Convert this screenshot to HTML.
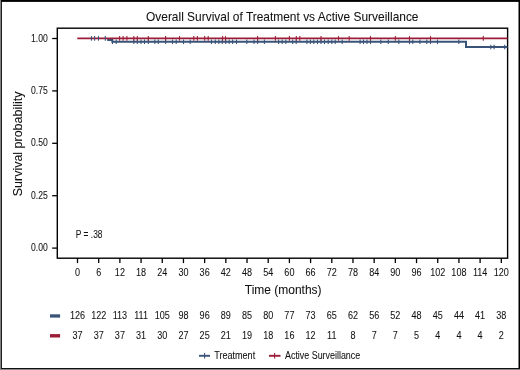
<!DOCTYPE html><html><head><meta charset="utf-8"><style>html,body{margin:0;padding:0;background:#fff;}body{width:520px;height:370px;overflow:hidden;position:relative;}svg{position:absolute;left:0;top:0;}text{font-family:"Liberation Sans", sans-serif;fill:#111;stroke:#111;stroke-width:0.06px;-webkit-font-smoothing:antialiased;}</style></head><body><svg style="filter:grayscale(0)" width="520" height="370" viewBox="0 0 520 370"><rect x="0" y="0" width="520" height="370" fill="#fff"/><text x="146" y="20.6" font-size="12.4" textLength="272.5" lengthAdjust="spacingAndGlyphs">Overall Survival of Treatment vs Active Surveillance</text><rect x="57.3" y="28.2" width="450.3" height="230" fill="none" stroke="#000" stroke-width="1.4"/><line x1="52.2" y1="38.50" x2="57.3" y2="38.50" stroke="#000" stroke-width="1.3"/><text x="47.80" y="41.60" font-size="10.0" text-anchor="end" textLength="16.74" lengthAdjust="spacingAndGlyphs">1.00</text><line x1="52.2" y1="90.90" x2="57.3" y2="90.90" stroke="#000" stroke-width="1.3"/><text x="47.80" y="94.00" font-size="10.0" text-anchor="end" textLength="16.74" lengthAdjust="spacingAndGlyphs">0.75</text><line x1="52.2" y1="143.30" x2="57.3" y2="143.30" stroke="#000" stroke-width="1.3"/><text x="47.80" y="146.40" font-size="10.0" text-anchor="end" textLength="16.74" lengthAdjust="spacingAndGlyphs">0.50</text><line x1="52.2" y1="195.70" x2="57.3" y2="195.70" stroke="#000" stroke-width="1.3"/><text x="47.80" y="198.80" font-size="10.0" text-anchor="end" textLength="16.74" lengthAdjust="spacingAndGlyphs">0.25</text><line x1="52.2" y1="248.10" x2="57.3" y2="248.10" stroke="#000" stroke-width="1.3"/><text x="47.80" y="251.20" font-size="10.0" text-anchor="end" textLength="16.74" lengthAdjust="spacingAndGlyphs">0.00</text><line x1="77.50" y1="258.2" x2="77.50" y2="263.1" stroke="#000" stroke-width="1.3"/><text x="77.50" y="275.90" font-size="10.0" text-anchor="middle" textLength="5.03" lengthAdjust="spacingAndGlyphs">0</text><line x1="98.69" y1="258.2" x2="98.69" y2="263.1" stroke="#000" stroke-width="1.3"/><text x="98.69" y="275.90" font-size="10.0" text-anchor="middle" textLength="5.03" lengthAdjust="spacingAndGlyphs">6</text><line x1="119.88" y1="258.2" x2="119.88" y2="263.1" stroke="#000" stroke-width="1.3"/><text x="119.88" y="275.90" font-size="10.0" text-anchor="middle" textLength="10.07" lengthAdjust="spacingAndGlyphs">12</text><line x1="141.07" y1="258.2" x2="141.07" y2="263.1" stroke="#000" stroke-width="1.3"/><text x="141.07" y="275.90" font-size="10.0" text-anchor="middle" textLength="10.07" lengthAdjust="spacingAndGlyphs">18</text><line x1="162.26" y1="258.2" x2="162.26" y2="263.1" stroke="#000" stroke-width="1.3"/><text x="162.26" y="275.90" font-size="10.0" text-anchor="middle" textLength="10.07" lengthAdjust="spacingAndGlyphs">24</text><line x1="183.45" y1="258.2" x2="183.45" y2="263.1" stroke="#000" stroke-width="1.3"/><text x="183.45" y="275.90" font-size="10.0" text-anchor="middle" textLength="10.07" lengthAdjust="spacingAndGlyphs">30</text><line x1="204.64" y1="258.2" x2="204.64" y2="263.1" stroke="#000" stroke-width="1.3"/><text x="204.64" y="275.90" font-size="10.0" text-anchor="middle" textLength="10.07" lengthAdjust="spacingAndGlyphs">36</text><line x1="225.83" y1="258.2" x2="225.83" y2="263.1" stroke="#000" stroke-width="1.3"/><text x="225.83" y="275.90" font-size="10.0" text-anchor="middle" textLength="10.07" lengthAdjust="spacingAndGlyphs">42</text><line x1="247.02" y1="258.2" x2="247.02" y2="263.1" stroke="#000" stroke-width="1.3"/><text x="247.02" y="275.90" font-size="10.0" text-anchor="middle" textLength="10.07" lengthAdjust="spacingAndGlyphs">48</text><line x1="268.21" y1="258.2" x2="268.21" y2="263.1" stroke="#000" stroke-width="1.3"/><text x="268.21" y="275.90" font-size="10.0" text-anchor="middle" textLength="10.07" lengthAdjust="spacingAndGlyphs">54</text><line x1="289.40" y1="258.2" x2="289.40" y2="263.1" stroke="#000" stroke-width="1.3"/><text x="289.40" y="275.90" font-size="10.0" text-anchor="middle" textLength="10.07" lengthAdjust="spacingAndGlyphs">60</text><line x1="310.59" y1="258.2" x2="310.59" y2="263.1" stroke="#000" stroke-width="1.3"/><text x="310.59" y="275.90" font-size="10.0" text-anchor="middle" textLength="10.07" lengthAdjust="spacingAndGlyphs">66</text><line x1="331.78" y1="258.2" x2="331.78" y2="263.1" stroke="#000" stroke-width="1.3"/><text x="331.78" y="275.90" font-size="10.0" text-anchor="middle" textLength="10.07" lengthAdjust="spacingAndGlyphs">72</text><line x1="352.97" y1="258.2" x2="352.97" y2="263.1" stroke="#000" stroke-width="1.3"/><text x="352.97" y="275.90" font-size="10.0" text-anchor="middle" textLength="10.07" lengthAdjust="spacingAndGlyphs">78</text><line x1="374.16" y1="258.2" x2="374.16" y2="263.1" stroke="#000" stroke-width="1.3"/><text x="374.16" y="275.90" font-size="10.0" text-anchor="middle" textLength="10.07" lengthAdjust="spacingAndGlyphs">84</text><line x1="395.35" y1="258.2" x2="395.35" y2="263.1" stroke="#000" stroke-width="1.3"/><text x="395.35" y="275.90" font-size="10.0" text-anchor="middle" textLength="10.07" lengthAdjust="spacingAndGlyphs">90</text><line x1="416.54" y1="258.2" x2="416.54" y2="263.1" stroke="#000" stroke-width="1.3"/><text x="416.54" y="275.90" font-size="10.0" text-anchor="middle" textLength="10.07" lengthAdjust="spacingAndGlyphs">96</text><line x1="437.73" y1="258.2" x2="437.73" y2="263.1" stroke="#000" stroke-width="1.3"/><text x="437.73" y="275.90" font-size="10.0" text-anchor="middle" textLength="15.10" lengthAdjust="spacingAndGlyphs">102</text><line x1="458.92" y1="258.2" x2="458.92" y2="263.1" stroke="#000" stroke-width="1.3"/><text x="458.92" y="275.90" font-size="10.0" text-anchor="middle" textLength="15.10" lengthAdjust="spacingAndGlyphs">108</text><line x1="480.11" y1="258.2" x2="480.11" y2="263.1" stroke="#000" stroke-width="1.3"/><text x="480.11" y="275.90" font-size="10.0" text-anchor="middle" textLength="14.43" lengthAdjust="spacingAndGlyphs">114</text><line x1="501.30" y1="258.2" x2="501.30" y2="263.1" stroke="#000" stroke-width="1.3"/><text x="501.30" y="275.90" font-size="10.0" text-anchor="middle" textLength="15.10" lengthAdjust="spacingAndGlyphs">120</text><text x="244.8" y="293.8" font-size="12" textLength="76.8" lengthAdjust="spacingAndGlyphs">Time (months)</text><text transform="translate(21.7,196.2) rotate(-90)" x="0" y="0" font-size="12.3" textLength="104.6" lengthAdjust="spacingAndGlyphs">Survival probability</text><text x="75.80" y="237.80" font-size="10.0" text-anchor="start" textLength="26.70" lengthAdjust="spacingAndGlyphs">P = .38</text><path d="M108.2 38.4 V40.1 H112.3 V41.8 H466 V47.0 H507.6" fill="none" stroke="#3a5479" stroke-width="2"/><path d="M77.3 38.4 H507.6" fill="none" stroke="#9c1d37" stroke-width="1.8"/><line x1="91.5" y1="36.10" x2="91.5" y2="40.70" stroke="#3a5479" stroke-width="1.1"/><line x1="94.6" y1="36.10" x2="94.6" y2="40.70" stroke="#3a5479" stroke-width="1.1"/><line x1="98.5" y1="36.10" x2="98.5" y2="40.70" stroke="#3a5479" stroke-width="1.1"/><line x1="105.3" y1="36.10" x2="105.3" y2="40.70" stroke="#3a5479" stroke-width="1.1"/><line x1="112.5" y1="39.50" x2="112.5" y2="44.10" stroke="#3a5479" stroke-width="1.1"/><line x1="116.2" y1="39.50" x2="116.2" y2="44.10" stroke="#3a5479" stroke-width="1.1"/><line x1="133.8" y1="39.50" x2="133.8" y2="44.10" stroke="#3a5479" stroke-width="1.1"/><line x1="137.3" y1="39.50" x2="137.3" y2="44.10" stroke="#3a5479" stroke-width="1.1"/><line x1="141" y1="39.50" x2="141" y2="44.10" stroke="#3a5479" stroke-width="1.1"/><line x1="144.5" y1="39.50" x2="144.5" y2="44.10" stroke="#3a5479" stroke-width="1.1"/><line x1="148.3" y1="39.50" x2="148.3" y2="44.10" stroke="#3a5479" stroke-width="1.1"/><line x1="154.8" y1="39.50" x2="154.8" y2="44.10" stroke="#3a5479" stroke-width="1.1"/><line x1="158.3" y1="39.50" x2="158.3" y2="44.10" stroke="#3a5479" stroke-width="1.1"/><line x1="165.6" y1="39.50" x2="165.6" y2="44.10" stroke="#3a5479" stroke-width="1.1"/><line x1="172.5" y1="39.50" x2="172.5" y2="44.10" stroke="#3a5479" stroke-width="1.1"/><line x1="176.2" y1="39.50" x2="176.2" y2="44.10" stroke="#3a5479" stroke-width="1.1"/><line x1="183.5" y1="39.50" x2="183.5" y2="44.10" stroke="#3a5479" stroke-width="1.1"/><line x1="190.2" y1="39.50" x2="190.2" y2="44.10" stroke="#3a5479" stroke-width="1.1"/><line x1="211.5" y1="39.50" x2="211.5" y2="44.10" stroke="#3a5479" stroke-width="1.1"/><line x1="215.3" y1="39.50" x2="215.3" y2="44.10" stroke="#3a5479" stroke-width="1.1"/><line x1="218.8" y1="39.50" x2="218.8" y2="44.10" stroke="#3a5479" stroke-width="1.1"/><line x1="222.2" y1="39.50" x2="222.2" y2="44.10" stroke="#3a5479" stroke-width="1.1"/><line x1="225.7" y1="39.50" x2="225.7" y2="44.10" stroke="#3a5479" stroke-width="1.1"/><line x1="229.2" y1="39.50" x2="229.2" y2="44.10" stroke="#3a5479" stroke-width="1.1"/><line x1="232.6" y1="39.50" x2="232.6" y2="44.10" stroke="#3a5479" stroke-width="1.1"/><line x1="236.5" y1="39.50" x2="236.5" y2="44.10" stroke="#3a5479" stroke-width="1.1"/><line x1="246.8" y1="39.50" x2="246.8" y2="44.10" stroke="#3a5479" stroke-width="1.1"/><line x1="254" y1="39.50" x2="254" y2="44.10" stroke="#3a5479" stroke-width="1.1"/><line x1="257.6" y1="39.50" x2="257.6" y2="44.10" stroke="#3a5479" stroke-width="1.1"/><line x1="264.4" y1="39.50" x2="264.4" y2="44.10" stroke="#3a5479" stroke-width="1.1"/><line x1="278.6" y1="39.50" x2="278.6" y2="44.10" stroke="#3a5479" stroke-width="1.1"/><line x1="282.2" y1="39.50" x2="282.2" y2="44.10" stroke="#3a5479" stroke-width="1.1"/><line x1="285.8" y1="39.50" x2="285.8" y2="44.10" stroke="#3a5479" stroke-width="1.1"/><line x1="292.7" y1="39.50" x2="292.7" y2="44.10" stroke="#3a5479" stroke-width="1.1"/><line x1="296.2" y1="39.50" x2="296.2" y2="44.10" stroke="#3a5479" stroke-width="1.1"/><line x1="306.9" y1="39.50" x2="306.9" y2="44.10" stroke="#3a5479" stroke-width="1.1"/><line x1="310.4" y1="39.50" x2="310.4" y2="44.10" stroke="#3a5479" stroke-width="1.1"/><line x1="313.8" y1="39.50" x2="313.8" y2="44.10" stroke="#3a5479" stroke-width="1.1"/><line x1="317.5" y1="39.50" x2="317.5" y2="44.10" stroke="#3a5479" stroke-width="1.1"/><line x1="321" y1="39.50" x2="321" y2="44.10" stroke="#3a5479" stroke-width="1.1"/><line x1="324.5" y1="39.50" x2="324.5" y2="44.10" stroke="#3a5479" stroke-width="1.1"/><line x1="328.2" y1="39.50" x2="328.2" y2="44.10" stroke="#3a5479" stroke-width="1.1"/><line x1="331.8" y1="39.50" x2="331.8" y2="44.10" stroke="#3a5479" stroke-width="1.1"/><line x1="335.2" y1="39.50" x2="335.2" y2="44.10" stroke="#3a5479" stroke-width="1.1"/><line x1="342.2" y1="39.50" x2="342.2" y2="44.10" stroke="#3a5479" stroke-width="1.1"/><line x1="360.1" y1="39.50" x2="360.1" y2="44.10" stroke="#3a5479" stroke-width="1.1"/><line x1="363.5" y1="39.50" x2="363.5" y2="44.10" stroke="#3a5479" stroke-width="1.1"/><line x1="367" y1="39.50" x2="367" y2="44.10" stroke="#3a5479" stroke-width="1.1"/><line x1="370.5" y1="39.50" x2="370.5" y2="44.10" stroke="#3a5479" stroke-width="1.1"/><line x1="380.8" y1="39.50" x2="380.8" y2="44.10" stroke="#3a5479" stroke-width="1.1"/><line x1="388.3" y1="39.50" x2="388.3" y2="44.10" stroke="#3a5479" stroke-width="1.1"/><line x1="398.8" y1="39.50" x2="398.8" y2="44.10" stroke="#3a5479" stroke-width="1.1"/><line x1="409.5" y1="39.50" x2="409.5" y2="44.10" stroke="#3a5479" stroke-width="1.1"/><line x1="412.8" y1="39.50" x2="412.8" y2="44.10" stroke="#3a5479" stroke-width="1.1"/><line x1="419.9" y1="39.50" x2="419.9" y2="44.10" stroke="#3a5479" stroke-width="1.1"/><line x1="426.8" y1="39.50" x2="426.8" y2="44.10" stroke="#3a5479" stroke-width="1.1"/><line x1="430.5" y1="39.50" x2="430.5" y2="44.10" stroke="#3a5479" stroke-width="1.1"/><line x1="437.5" y1="39.50" x2="437.5" y2="44.10" stroke="#3a5479" stroke-width="1.1"/><line x1="458.8" y1="39.50" x2="458.8" y2="44.10" stroke="#3a5479" stroke-width="1.1"/><line x1="490.8" y1="44.70" x2="490.8" y2="49.30" stroke="#3a5479" stroke-width="1.1"/><line x1="494.1" y1="44.70" x2="494.1" y2="49.30" stroke="#3a5479" stroke-width="1.1"/><line x1="504.7" y1="44.70" x2="504.7" y2="49.30" stroke="#3a5479" stroke-width="1.1"/><line x1="119.6" y1="36.10" x2="119.6" y2="40.70" stroke="#9c1d37" stroke-width="1.1"/><line x1="123.1" y1="36.10" x2="123.1" y2="40.70" stroke="#9c1d37" stroke-width="1.1"/><line x1="126.9" y1="36.10" x2="126.9" y2="40.70" stroke="#9c1d37" stroke-width="1.1"/><line x1="133.8" y1="36.10" x2="133.8" y2="40.70" stroke="#9c1d37" stroke-width="1.1"/><line x1="137.3" y1="36.10" x2="137.3" y2="40.70" stroke="#9c1d37" stroke-width="1.1"/><line x1="148.3" y1="36.10" x2="148.3" y2="40.70" stroke="#9c1d37" stroke-width="1.1"/><line x1="165.6" y1="36.10" x2="165.6" y2="40.70" stroke="#9c1d37" stroke-width="1.1"/><line x1="179.5" y1="36.10" x2="179.5" y2="40.70" stroke="#9c1d37" stroke-width="1.1"/><line x1="193.8" y1="36.10" x2="193.8" y2="40.70" stroke="#9c1d37" stroke-width="1.1"/><line x1="197.4" y1="36.10" x2="197.4" y2="40.70" stroke="#9c1d37" stroke-width="1.1"/><line x1="204.7" y1="36.10" x2="204.7" y2="40.70" stroke="#9c1d37" stroke-width="1.1"/><line x1="208.2" y1="36.10" x2="208.2" y2="40.70" stroke="#9c1d37" stroke-width="1.1"/><line x1="222.6" y1="36.10" x2="222.6" y2="40.70" stroke="#9c1d37" stroke-width="1.1"/><line x1="225.5" y1="36.10" x2="225.5" y2="40.70" stroke="#9c1d37" stroke-width="1.1"/><line x1="257.6" y1="36.10" x2="257.6" y2="40.70" stroke="#9c1d37" stroke-width="1.1"/><line x1="275.4" y1="36.10" x2="275.4" y2="40.70" stroke="#9c1d37" stroke-width="1.1"/><line x1="289.4" y1="36.10" x2="289.4" y2="40.70" stroke="#9c1d37" stroke-width="1.1"/><line x1="296.3" y1="36.10" x2="296.3" y2="40.70" stroke="#9c1d37" stroke-width="1.1"/><line x1="299.8" y1="36.10" x2="299.8" y2="40.70" stroke="#9c1d37" stroke-width="1.1"/><line x1="321" y1="36.10" x2="321" y2="40.70" stroke="#9c1d37" stroke-width="1.1"/><line x1="338.5" y1="36.10" x2="338.5" y2="40.70" stroke="#9c1d37" stroke-width="1.1"/><line x1="349.2" y1="36.10" x2="349.2" y2="40.70" stroke="#9c1d37" stroke-width="1.1"/><line x1="370.5" y1="36.10" x2="370.5" y2="40.70" stroke="#9c1d37" stroke-width="1.1"/><line x1="395.3" y1="36.10" x2="395.3" y2="40.70" stroke="#9c1d37" stroke-width="1.1"/><line x1="409.5" y1="36.10" x2="409.5" y2="40.70" stroke="#9c1d37" stroke-width="1.1"/><line x1="430.5" y1="36.10" x2="430.5" y2="40.70" stroke="#9c1d37" stroke-width="1.1"/><line x1="483.3" y1="36.10" x2="483.3" y2="40.70" stroke="#9c1d37" stroke-width="1.1"/><rect x="50" y="314.3" width="10.1" height="3.3" fill="#3a5479"/><rect x="50" y="334.1" width="10.1" height="3.4" fill="#9c1d37"/><text x="77.50" y="319.00" font-size="10.0" text-anchor="middle" textLength="15.10" lengthAdjust="spacingAndGlyphs">126</text><text x="77.50" y="338.70" font-size="10.0" text-anchor="middle" textLength="10.07" lengthAdjust="spacingAndGlyphs">37</text><text x="98.69" y="319.00" font-size="10.0" text-anchor="middle" textLength="15.10" lengthAdjust="spacingAndGlyphs">122</text><text x="98.69" y="338.70" font-size="10.0" text-anchor="middle" textLength="10.07" lengthAdjust="spacingAndGlyphs">37</text><text x="119.88" y="319.00" font-size="10.0" text-anchor="middle" textLength="14.43" lengthAdjust="spacingAndGlyphs">113</text><text x="119.88" y="338.70" font-size="10.0" text-anchor="middle" textLength="10.07" lengthAdjust="spacingAndGlyphs">37</text><text x="141.07" y="319.00" font-size="10.0" text-anchor="middle" textLength="13.76" lengthAdjust="spacingAndGlyphs">111</text><text x="141.07" y="338.70" font-size="10.0" text-anchor="middle" textLength="10.07" lengthAdjust="spacingAndGlyphs">31</text><text x="162.26" y="319.00" font-size="10.0" text-anchor="middle" textLength="15.10" lengthAdjust="spacingAndGlyphs">105</text><text x="162.26" y="338.70" font-size="10.0" text-anchor="middle" textLength="10.07" lengthAdjust="spacingAndGlyphs">30</text><text x="183.45" y="319.00" font-size="10.0" text-anchor="middle" textLength="10.07" lengthAdjust="spacingAndGlyphs">98</text><text x="183.45" y="338.70" font-size="10.0" text-anchor="middle" textLength="10.07" lengthAdjust="spacingAndGlyphs">27</text><text x="204.64" y="319.00" font-size="10.0" text-anchor="middle" textLength="10.07" lengthAdjust="spacingAndGlyphs">96</text><text x="204.64" y="338.70" font-size="10.0" text-anchor="middle" textLength="10.07" lengthAdjust="spacingAndGlyphs">25</text><text x="225.83" y="319.00" font-size="10.0" text-anchor="middle" textLength="10.07" lengthAdjust="spacingAndGlyphs">89</text><text x="225.83" y="338.70" font-size="10.0" text-anchor="middle" textLength="10.07" lengthAdjust="spacingAndGlyphs">21</text><text x="247.02" y="319.00" font-size="10.0" text-anchor="middle" textLength="10.07" lengthAdjust="spacingAndGlyphs">85</text><text x="247.02" y="338.70" font-size="10.0" text-anchor="middle" textLength="10.07" lengthAdjust="spacingAndGlyphs">19</text><text x="268.21" y="319.00" font-size="10.0" text-anchor="middle" textLength="10.07" lengthAdjust="spacingAndGlyphs">80</text><text x="268.21" y="338.70" font-size="10.0" text-anchor="middle" textLength="10.07" lengthAdjust="spacingAndGlyphs">18</text><text x="289.40" y="319.00" font-size="10.0" text-anchor="middle" textLength="10.07" lengthAdjust="spacingAndGlyphs">77</text><text x="289.40" y="338.70" font-size="10.0" text-anchor="middle" textLength="10.07" lengthAdjust="spacingAndGlyphs">16</text><text x="310.59" y="319.00" font-size="10.0" text-anchor="middle" textLength="10.07" lengthAdjust="spacingAndGlyphs">73</text><text x="310.59" y="338.70" font-size="10.0" text-anchor="middle" textLength="10.07" lengthAdjust="spacingAndGlyphs">12</text><text x="331.78" y="319.00" font-size="10.0" text-anchor="middle" textLength="10.07" lengthAdjust="spacingAndGlyphs">65</text><text x="331.78" y="338.70" font-size="10.0" text-anchor="middle" textLength="9.39" lengthAdjust="spacingAndGlyphs">11</text><text x="352.97" y="319.00" font-size="10.0" text-anchor="middle" textLength="10.07" lengthAdjust="spacingAndGlyphs">62</text><text x="352.97" y="338.70" font-size="10.0" text-anchor="middle" textLength="5.03" lengthAdjust="spacingAndGlyphs">8</text><text x="374.16" y="319.00" font-size="10.0" text-anchor="middle" textLength="10.07" lengthAdjust="spacingAndGlyphs">56</text><text x="374.16" y="338.70" font-size="10.0" text-anchor="middle" textLength="5.03" lengthAdjust="spacingAndGlyphs">7</text><text x="395.35" y="319.00" font-size="10.0" text-anchor="middle" textLength="10.07" lengthAdjust="spacingAndGlyphs">52</text><text x="395.35" y="338.70" font-size="10.0" text-anchor="middle" textLength="5.03" lengthAdjust="spacingAndGlyphs">7</text><text x="416.54" y="319.00" font-size="10.0" text-anchor="middle" textLength="10.07" lengthAdjust="spacingAndGlyphs">48</text><text x="416.54" y="338.70" font-size="10.0" text-anchor="middle" textLength="5.03" lengthAdjust="spacingAndGlyphs">5</text><text x="437.73" y="319.00" font-size="10.0" text-anchor="middle" textLength="10.07" lengthAdjust="spacingAndGlyphs">45</text><text x="437.73" y="338.70" font-size="10.0" text-anchor="middle" textLength="5.03" lengthAdjust="spacingAndGlyphs">4</text><text x="458.92" y="319.00" font-size="10.0" text-anchor="middle" textLength="10.07" lengthAdjust="spacingAndGlyphs">44</text><text x="458.92" y="338.70" font-size="10.0" text-anchor="middle" textLength="5.03" lengthAdjust="spacingAndGlyphs">4</text><text x="480.11" y="319.00" font-size="10.0" text-anchor="middle" textLength="10.07" lengthAdjust="spacingAndGlyphs">41</text><text x="480.11" y="338.70" font-size="10.0" text-anchor="middle" textLength="5.03" lengthAdjust="spacingAndGlyphs">4</text><text x="501.30" y="319.00" font-size="10.0" text-anchor="middle" textLength="10.07" lengthAdjust="spacingAndGlyphs">38</text><text x="501.30" y="338.70" font-size="10.0" text-anchor="middle" textLength="5.03" lengthAdjust="spacingAndGlyphs">2</text><line x1="199" y1="355.8" x2="210" y2="355.8" stroke="#3a5479" stroke-width="1.9"/><line x1="204.6" y1="353" x2="204.6" y2="358.6" stroke="#3a5479" stroke-width="1.1"/><text x="214.2" y="358.8" font-size="10" textLength="41.0" lengthAdjust="spacingAndGlyphs">Treatment</text><line x1="269" y1="355.8" x2="280.5" y2="355.8" stroke="#9c1d37" stroke-width="1.9"/><line x1="274.6" y1="353" x2="274.6" y2="358.6" stroke="#9c1d37" stroke-width="1.1"/><text x="285" y="358.8" font-size="10" textLength="75.2" lengthAdjust="spacingAndGlyphs">Active Surveillance</text><rect x="0" y="0" width="1" height="370" fill="#828282"/><rect x="0" y="369" width="520" height="1" fill="#8a8a8a"/><rect x="1" y="0" width="1" height="369" fill="#1e1e1e"/><rect x="1" y="0" width="519" height="1" fill="#000"/><rect x="1" y="1" width="519" height="1" fill="#1a1a1a"/><rect x="518.5" y="0" width="1.5" height="369" fill="#000"/><rect x="1" y="368" width="519" height="1" fill="#111"/></svg></body></html>
